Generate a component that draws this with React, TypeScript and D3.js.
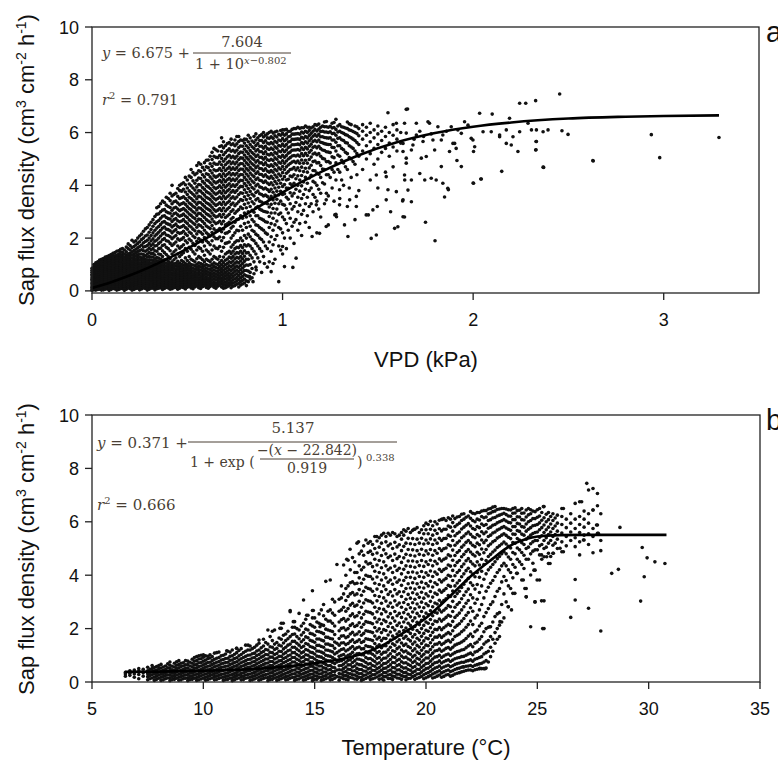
import React from "react";
import * as d3 from "d3";

// ---------- Panel a: sap flux density vs VPD (kPa) ----------
const vpdColumns: [number, number[]][] = [
  [0.0, [0.02, 0.07, 0.13, 0.19, 0.26, 0.31, 0.38, 0.44, 0.5, 0.57, 0.63, 0.71, 0.78, 0.86]],
  [0.01, [0.04, 0.1, 0.16, 0.23, 0.29, 0.35, 0.42, 0.48, 0.55, 0.61, 0.68, 0.75, 0.83, 0.92, 1.0]],
  [0.02, [0.03, 0.09, 0.15, 0.21, 0.27, 0.34, 0.4, 0.46, 0.53, 0.6, 0.67, 0.73, 0.8, 0.88, 0.97, 1.06]],
  [0.03, [0.05, 0.12, 0.18, 0.25, 0.31, 0.38, 0.45, 0.51, 0.58, 0.64, 0.71, 0.79, 0.86, 0.94, 1.02, 1.1]],
  [0.04, [0.06, 0.14, 0.2, 0.29, 0.35, 0.43, 0.5, 0.56, 0.63, 0.7, 0.77, 0.85, 0.93, 1.0, 1.08, 1.17]],
  [0.06, [0.04, 0.11, 0.19, 0.26, 0.34, 0.41, 0.47, 0.55, 0.62, 0.69, 0.76, 0.84, 0.91, 0.99, 1.07, 1.15, 1.23]],
  [0.08, [0.08, 0.15, 0.23, 0.3, 0.38, 0.45, 0.52, 0.6, 0.67, 0.74, 0.82, 0.9, 0.97, 1.05, 1.12, 1.2, 1.3]],
  [0.1, [0.05, 0.13, 0.21, 0.28, 0.36, 0.43, 0.51, 0.58, 0.66, 0.73, 0.81, 0.88, 0.96, 1.04, 1.11, 1.19, 1.27, 1.38]],
  [0.12, [0.07, 0.16, 0.24, 0.32, 0.39, 0.47, 0.55, 0.62, 0.7, 0.78, 0.86, 0.93, 1.01, 1.09, 1.17, 1.25, 1.33, 1.45]],
  [0.14, [0.05, 0.12, 0.2, 0.29, 0.37, 0.44, 0.52, 0.6, 0.68, 0.75, 0.83, 0.91, 0.99, 1.06, 1.14, 1.22, 1.3, 1.4, 1.52]],
  [0.16, [0.09, 0.17, 0.25, 0.33, 0.41, 0.49, 0.57, 0.64, 0.72, 0.8, 0.88, 0.96, 1.04, 1.12, 1.2, 1.28, 1.37, 1.46, 1.6]],
  [0.18, [0.06, 0.14, 0.22, 0.3, 0.38, 0.46, 0.54, 0.62, 0.7, 0.78, 0.86, 0.94, 1.02, 1.1, 1.18, 1.27, 1.36, 1.48, 1.66]],
  [0.2, [0.08, 0.16, 0.24, 0.33, 0.41, 0.49, 0.57, 0.65, 0.73, 0.81, 0.89, 0.97, 1.05, 1.14, 1.23, 1.32, 1.42, 1.55, 1.72]],
  [0.22, [0.05, 0.13, 0.21, 0.29, 0.37, 0.45, 0.53, 0.61, 0.69, 0.77, 0.85, 0.94, 1.02, 1.11, 1.2, 1.3, 1.41, 1.53, 1.68, 1.85]],
  [0.24, [0.1, 0.18, 0.26, 0.34, 0.42, 0.5, 0.58, 0.66, 0.74, 0.82, 0.9, 0.98, 1.07, 1.16, 1.26, 1.37, 1.49, 1.63, 1.8, 2.0]],
  [0.26, [0.07, 0.15, 0.23, 0.31, 0.39, 0.47, 0.55, 0.63, 0.71, 0.79, 0.87, 0.96, 1.05, 1.15, 1.25, 1.4, 1.56, 1.74, 1.95, 2.15]],
  [0.28, [0.09, 0.17, 0.25, 0.33, 0.41, 0.49, 0.57, 0.65, 0.73, 0.81, 0.9, 0.99, 1.09, 1.2, 1.33, 1.5, 1.68, 1.87, 2.08, 2.35]],
  [0.3, [0.06, 0.14, 0.22, 0.3, 0.38, 0.46, 0.54, 0.62, 0.7, 0.79, 0.88, 0.97, 1.07, 1.18, 1.3, 1.45, 1.62, 1.8, 2.0, 2.22, 2.5]],
  [0.32, [0.1, 0.18, 0.26, 0.34, 0.42, 0.5, 0.58, 0.67, 0.76, 0.85, 0.94, 1.04, 1.15, 1.28, 1.42, 1.6, 1.78, 1.97, 2.2, 2.45, 2.7]],
  [0.34, [0.08, 0.16, 0.24, 0.32, 0.4, 0.48, 0.57, 0.66, 0.75, 0.84, 0.93, 1.03, 1.14, 1.26, 1.5, 1.72, 1.93, 2.15, 2.38, 2.62, 2.9, 3.15]],
  [0.36, [0.12, 0.2, 0.28, 0.36, 0.44, 0.52, 0.61, 0.7, 0.79, 0.88, 0.98, 1.09, 1.2, 1.38, 1.62, 1.85, 2.08, 2.3, 2.52, 2.75, 3.0, 3.3]],
  [0.38, [0.09, 0.17, 0.25, 0.33, 0.41, 0.5, 0.59, 0.68, 0.77, 0.86, 0.96, 1.07, 1.18, 1.45, 1.75, 1.98, 2.2, 2.42, 2.63, 2.85, 3.08, 3.35]],
  [0.4, [0.11, 0.19, 0.27, 0.35, 0.43, 0.52, 0.61, 0.7, 0.79, 0.89, 1.0, 1.12, 1.3, 1.6, 1.88, 2.1, 2.32, 2.53, 2.74, 2.96, 3.2, 3.5]],
  [0.42, [0.08, 0.16, 0.24, 0.32, 0.41, 0.5, 0.59, 0.68, 0.78, 0.88, 0.99, 1.1, 1.4, 1.72, 1.98, 2.2, 2.42, 2.63, 2.84, 3.06, 3.3, 3.6, 4.0]],
  [0.44, [0.13, 0.21, 0.29, 0.37, 0.46, 0.55, 0.64, 0.73, 0.83, 0.94, 1.05, 1.25, 1.55, 1.85, 2.1, 2.32, 2.53, 2.74, 2.95, 3.17, 3.4, 3.7]],
  [0.46, [0.1, 0.18, 0.26, 0.35, 0.44, 0.53, 0.62, 0.72, 0.82, 0.93, 1.05, 1.3, 1.62, 1.92, 2.18, 2.4, 2.62, 2.83, 3.04, 3.26, 3.5, 3.8, 4.0]],
  [0.48, [0.12, 0.2, 0.29, 0.38, 0.47, 0.56, 0.66, 0.76, 0.86, 0.97, 1.1, 1.45, 1.75, 2.02, 2.26, 2.48, 2.7, 2.91, 3.12, 3.34, 3.57, 3.85, 4.1]],
  [0.5, [0.14, 0.22, 0.31, 0.4, 0.49, 0.58, 0.68, 0.78, 0.88, 0.99, 1.15, 1.5, 1.82, 2.1, 2.34, 2.56, 2.78, 2.99, 3.2, 3.42, 3.65, 3.9, 4.2]],
  [0.52, [0.11, 0.2, 0.29, 0.38, 0.47, 0.57, 0.67, 0.77, 0.88, 1.0, 1.2, 1.58, 1.9, 2.18, 2.42, 2.64, 2.86, 3.07, 3.28, 3.5, 3.73, 3.98, 4.3, 4.6]],
  [0.54, [0.15, 0.24, 0.33, 0.42, 0.52, 0.62, 0.72, 0.83, 0.95, 1.1, 1.4, 1.72, 2.02, 2.28, 2.52, 2.74, 2.95, 3.16, 3.37, 3.59, 3.82, 4.08, 4.4]],
  [0.56, [0.12, 0.21, 0.3, 0.4, 0.5, 0.6, 0.7, 0.81, 0.93, 1.06, 1.3, 1.65, 1.98, 2.26, 2.5, 2.72, 2.94, 3.15, 3.36, 3.58, 3.8, 4.03, 4.28, 4.55, 4.85]],
  [0.58, [0.16, 0.25, 0.35, 0.45, 0.55, 0.65, 0.76, 0.88, 1.0, 1.18, 1.5, 1.85, 2.15, 2.4, 2.63, 2.85, 3.06, 3.27, 3.48, 3.7, 3.92, 4.15, 4.4, 4.68]],
  [0.6, [0.13, 0.23, 0.33, 0.43, 0.53, 0.64, 0.75, 0.87, 1.0, 1.2, 1.55, 1.9, 2.2, 2.46, 2.7, 2.92, 3.13, 3.34, 3.55, 3.76, 3.98, 4.2, 4.44, 4.7, 4.95]],
  [0.62, [0.17, 0.27, 0.37, 0.47, 0.58, 0.69, 0.81, 0.94, 1.1, 1.4, 1.75, 2.08, 2.36, 2.6, 2.83, 3.04, 3.25, 3.46, 3.67, 3.88, 4.1, 4.32, 4.56, 4.82, 5.1]],
  [0.64, [0.14, 0.24, 0.34, 0.45, 0.56, 0.67, 0.79, 0.92, 1.06, 1.3, 1.7, 2.05, 2.35, 2.62, 2.86, 3.08, 3.3, 3.51, 3.72, 3.93, 4.14, 4.36, 4.59, 4.84, 5.1, 5.4]],
  [0.66, [0.18, 0.28, 0.39, 0.5, 0.61, 0.73, 0.86, 1.0, 1.2, 1.6, 1.98, 2.3, 2.58, 2.83, 3.06, 3.28, 3.5, 3.71, 3.92, 4.13, 4.35, 4.57, 4.8, 5.05, 5.3]],
  [0.68, [0.15, 0.26, 0.37, 0.48, 0.6, 0.72, 0.85, 0.99, 1.15, 1.5, 1.9, 2.24, 2.54, 2.8, 3.04, 3.27, 3.49, 3.7, 3.91, 4.12, 4.33, 4.55, 4.78, 5.02, 5.28, 5.5, 5.8]],
  [0.7, [0.12, 0.22, 0.33, 0.45, 0.57, 0.7, 0.84, 0.99, 1.16, 1.4, 1.8, 2.18, 2.5, 2.78, 3.03, 3.27, 3.5, 3.72, 3.93, 4.14, 4.35, 4.56, 4.78, 5.0, 5.24, 5.5]],
  [0.72, [0.2, 0.31, 0.43, 0.55, 0.68, 0.81, 0.95, 1.1, 1.28, 1.5, 1.85, 2.25, 2.6, 2.9, 3.16, 3.4, 3.63, 3.85, 4.06, 4.27, 4.48, 4.69, 4.91, 5.14, 5.38, 5.62]],
  [0.74, [0.18, 0.3, 0.42, 0.55, 0.68, 0.82, 0.97, 1.13, 1.3, 1.5, 1.75, 2.1, 2.45, 2.78, 3.07, 3.33, 3.57, 3.8, 4.02, 4.24, 4.45, 4.66, 4.88, 5.1, 5.33, 5.57]],
  [0.76, [0.25, 0.38, 0.51, 0.65, 0.79, 0.94, 1.1, 1.27, 1.45, 1.65, 1.9, 2.3, 2.7, 3.02, 3.3, 3.56, 3.8, 4.03, 4.25, 4.46, 4.67, 4.88, 5.1, 5.33, 5.57, 5.85]],
  [0.78, [0.22, 0.36, 0.5, 0.65, 0.8, 0.96, 1.13, 1.3, 1.5, 1.72, 2.0, 2.45, 2.85, 3.18, 3.46, 3.72, 3.96, 4.19, 4.41, 4.62, 4.83, 5.04, 5.26, 5.49, 5.72]],
  [0.8, [0.3, 0.45, 0.61, 0.77, 0.94, 1.12, 1.31, 1.52, 1.75, 2.1, 2.55, 2.95, 3.28, 3.57, 3.83, 4.07, 4.3, 4.52, 4.73, 4.94, 5.15, 5.37, 5.6, 5.75]],
  [0.82, [0.35, 0.55, 0.75, 0.97, 1.2, 1.45, 1.75, 2.15, 2.6, 3.0, 3.33, 3.62, 3.88, 4.12, 4.35, 4.57, 4.78, 4.99, 5.2, 5.42, 5.65, 5.9]],
  [0.84, [0.5, 0.85, 1.25, 1.6, 1.95, 2.3, 2.7, 3.05, 3.38, 3.66, 3.92, 4.16, 4.39, 4.61, 4.82, 5.03, 5.24, 5.46, 5.68]],
  [0.86, [0.9, 1.4, 1.8, 2.15, 2.5, 2.85, 3.15, 3.45, 3.73, 3.98, 4.22, 4.45, 4.67, 4.88, 5.09, 5.3, 5.51, 5.72, 5.95]],
  [0.88, [1.1, 1.6, 2.0, 2.4, 2.75, 3.1, 3.4, 3.68, 3.94, 4.19, 4.42, 4.64, 4.85, 5.06, 5.27, 5.48, 5.7, 5.88]],
  [0.9, [1.3, 1.85, 2.3, 2.68, 3.02, 3.32, 3.6, 3.86, 4.11, 4.34, 4.56, 4.78, 4.99, 5.2, 5.41, 5.62, 5.83, 6.0]],
  [0.92, [0.9, 1.6, 2.15, 2.6, 2.98, 3.3, 3.58, 3.84, 4.09, 4.32, 4.54, 4.76, 4.97, 5.18, 5.39, 5.6, 5.8, 5.95]],
  [0.94, [1.5, 2.05, 2.55, 2.95, 3.28, 3.58, 3.85, 4.1, 4.34, 4.56, 4.78, 4.99, 5.2, 5.41, 5.62, 5.84, 6.05]],
  [0.96, [1.2, 1.95, 2.5, 2.95, 3.32, 3.63, 3.9, 4.15, 4.39, 4.61, 4.83, 5.04, 5.25, 5.46, 5.67, 5.88, 6.02]],
  [0.98, [0.35, 1.7, 2.4, 2.9, 3.3, 3.64, 3.93, 4.19, 4.43, 4.66, 4.88, 5.09, 5.3, 5.51, 5.72, 5.93]],
  [1.0, [1.4, 2.2, 2.8, 3.28, 3.65, 3.96, 4.23, 4.48, 4.71, 4.93, 5.14, 5.35, 5.56, 5.77, 5.97, 6.1]],
  [1.02, [1.6, 2.55, 3.1, 3.55, 3.9, 4.2, 4.46, 4.7, 4.92, 5.13, 5.34, 5.55, 5.75, 5.95, 6.12]],
  [1.04, [2.0, 2.75, 3.3, 3.72, 4.06, 4.35, 4.6, 4.83, 5.05, 5.26, 5.46, 5.66, 5.86, 6.05]],
  [1.06, [1.8, 2.6, 3.2, 3.7, 4.08, 4.4, 4.67, 4.91, 5.13, 5.34, 5.54, 5.74, 5.94, 6.15]],
  [1.08, [2.3, 3.0, 3.55, 4.0, 4.36, 4.66, 4.92, 5.15, 5.36, 5.56, 5.76, 5.96, 6.2]],
  [1.1, [2.1, 2.9, 3.5, 3.98, 4.37, 4.69, 4.96, 5.2, 5.42, 5.62, 5.82, 6.02, 6.18]],
  [1.12, [2.6, 3.3, 3.85, 4.3, 4.65, 4.95, 5.21, 5.44, 5.65, 5.85, 6.05, 6.25]],
  [1.14, [2.4, 3.2, 3.8, 4.28, 4.66, 4.98, 5.25, 5.48, 5.69, 5.89, 6.08, 6.2]],
  [1.16, [3.0, 3.65, 4.15, 4.56, 4.9, 5.19, 5.44, 5.66, 5.86, 6.05, 6.22]],
  [1.18, [2.2, 3.4, 4.0, 4.47, 4.85, 5.16, 5.42, 5.65, 5.86, 6.06, 6.28]],
  [1.2, [2.8, 3.7, 4.3, 4.75, 5.1, 5.39, 5.63, 5.84, 6.04, 6.2]],
  [1.22, [3.3, 4.05, 4.6, 5.0, 5.32, 5.58, 5.81, 6.02, 6.22, 6.4]],
  [1.24, [2.5, 3.6, 4.4, 4.9, 5.26, 5.55, 5.79, 6.0, 6.2]],
  [1.26, [3.9, 4.6, 5.08, 5.44, 5.72, 5.96, 6.17, 6.35]],
  [1.28, [2.9, 4.2, 4.85, 5.3, 5.63, 5.9, 6.12, 6.5]],
  [1.3, [3.5, 4.5, 5.1, 5.5, 5.8, 6.05, 6.3]],
  [1.32, [4.0, 4.85, 5.35, 5.7, 5.97, 6.2]],
  [1.34, [3.2, 4.6, 5.2, 5.6, 5.9, 6.15, 6.4]],
  [1.36, [4.3, 5.0, 5.45, 5.8, 6.08, 6.3]],
  [1.38, [2.7, 4.8, 5.3, 5.7, 6.0, 6.25]],
  [1.4, [3.8, 5.1, 5.55, 5.88, 6.15]],
  [1.42, [4.6, 5.3, 5.75, 6.05, 6.3]],
  [1.44, [5.0, 5.5, 5.9, 6.2]],
  [1.46, [4.2, 5.2, 5.65, 6.0, 6.35]],
  [1.48, [4.8, 5.4, 5.8, 6.1]],
  [1.5, [3.9, 5.0, 5.55, 5.95, 6.25]],
  [1.52, [5.25, 5.7, 6.05]],
  [1.54, [4.5, 5.4, 5.85, 6.2]],
  [1.56, [5.1, 5.6, 6.0]],
  [1.58, [4.7, 5.45, 5.9, 6.3]],
  [1.6, [5.3, 5.75, 6.1]],
  [1.62, [5.6, 6.0]],
];

// further observations lying between the columns above
const vpdColumnsMid: [number, number[]][] = [
  [0.05, [0.03, 0.1, 0.17, 0.24, 0.32, 0.39, 0.46, 0.54, 0.61, 0.69, 0.77, 0.85, 0.94, 1.03, 1.12, 1.2]],
  [0.07, [0.06, 0.14, 0.22, 0.29, 0.37, 0.44, 0.52, 0.59, 0.67, 0.75, 0.83, 0.92, 1.01, 1.1, 1.19, 1.28]],
  [0.09, [0.02, 0.1, 0.18, 0.26, 0.33, 0.41, 0.49, 0.56, 0.64, 0.72, 0.8, 0.88, 0.97, 1.06, 1.15, 1.24, 1.34]],
  [0.11, [0.09, 0.17, 0.25, 0.32, 0.4, 0.48, 0.56, 0.63, 0.71, 0.79, 0.87, 0.95, 1.04, 1.13, 1.22, 1.31, 1.42]],
  [0.13, [0.03, 0.11, 0.19, 0.27, 0.35, 0.43, 0.51, 0.58, 0.66, 0.74, 0.82, 0.9, 0.98, 1.07, 1.16, 1.26, 1.36, 1.5]],
  [0.15, [0.08, 0.16, 0.24, 0.32, 0.4, 0.48, 0.56, 0.64, 0.72, 0.8, 0.88, 0.96, 1.05, 1.14, 1.24, 1.34, 1.46, 1.58]],
  [0.17, [0.02, 0.1, 0.19, 0.27, 0.35, 0.43, 0.51, 0.59, 0.67, 0.76, 0.84, 0.92, 1.0, 1.09, 1.18, 1.28, 1.4, 1.55]],
  [0.19, [0.11, 0.19, 0.27, 0.36, 0.44, 0.52, 0.6, 0.69, 0.77, 0.85, 0.93, 1.02, 1.11, 1.2, 1.3, 1.41, 1.6, 1.78]],
  [0.21, [0.03, 0.12, 0.2, 0.28, 0.36, 0.45, 0.53, 0.61, 0.7, 0.78, 0.86, 0.95, 1.04, 1.13, 1.24, 1.36, 1.48, 1.64, 1.92]],
  [0.23, [0.09, 0.17, 0.26, 0.34, 0.42, 0.51, 0.59, 0.67, 0.76, 0.84, 0.93, 1.02, 1.12, 1.22, 1.33, 1.45, 1.58, 1.74, 1.9]],
  [0.25, [0.04, 0.13, 0.21, 0.3, 0.38, 0.46, 0.55, 0.63, 0.71, 0.8, 0.88, 0.97, 1.06, 1.17, 1.28, 1.4, 1.53, 1.68, 1.86, 2.08]],
  [0.27, [0.11, 0.2, 0.28, 0.36, 0.45, 0.53, 0.61, 0.7, 0.78, 0.87, 0.95, 1.05, 1.15, 1.26, 1.38, 1.52, 1.66, 1.82, 2.0, 2.26]],
  [0.29, [0.03, 0.12, 0.2, 0.29, 0.37, 0.45, 0.53, 0.62, 0.7, 0.78, 0.87, 0.96, 1.06, 1.16, 1.28, 1.4, 1.55, 1.72, 1.92, 2.12, 2.4]],
  [0.31, [0.1, 0.18, 0.27, 0.35, 0.43, 0.52, 0.6, 0.68, 0.77, 0.86, 0.95, 1.05, 1.16, 1.28, 1.42, 1.56, 1.72, 1.9, 2.1, 2.33, 2.6]],
  [0.33, [0.04, 0.13, 0.21, 0.3, 0.38, 0.46, 0.55, 0.63, 0.72, 0.81, 0.9, 1.0, 1.1, 1.22, 1.36, 1.52, 1.7, 1.88, 2.08, 2.3, 2.55, 2.82]],
  [0.35, [0.1, 0.19, 0.27, 0.36, 0.44, 0.53, 0.62, 0.71, 0.8, 0.9, 1.0, 1.11, 1.24, 1.4, 1.6, 1.8, 2.0, 2.22, 2.44, 2.67, 2.92, 3.2]],
  [0.37, [0.05, 0.14, 0.23, 0.31, 0.4, 0.49, 0.57, 0.66, 0.75, 0.84, 0.94, 1.04, 1.16, 1.3, 1.52, 1.72, 1.94, 2.16, 2.38, 2.6, 2.83, 3.06, 3.4]],
  [0.39, [0.13, 0.22, 0.3, 0.39, 0.47, 0.56, 0.65, 0.74, 0.84, 0.94, 1.05, 1.2, 1.38, 1.65, 1.9, 2.12, 2.34, 2.56, 2.78, 3.0, 3.25, 3.55]],
  [0.41, [0.06, 0.15, 0.23, 0.31, 0.39, 0.48, 0.57, 0.66, 0.75, 0.84, 0.94, 1.05, 1.22, 1.52, 1.8, 2.05, 2.28, 2.5, 2.72, 2.94, 3.16, 3.42, 3.7]],
  [0.43, [0.12, 0.2, 0.28, 0.36, 0.45, 0.54, 0.63, 0.72, 0.82, 0.92, 1.03, 1.18, 1.48, 1.78, 2.04, 2.27, 2.48, 2.7, 2.92, 3.14, 3.38, 3.65]],
  [0.45, [0.06, 0.14, 0.23, 0.32, 0.41, 0.5, 0.59, 0.68, 0.78, 0.88, 0.99, 1.12, 1.4, 1.7, 1.97, 2.21, 2.44, 2.66, 2.88, 3.1, 3.33, 3.58, 3.88]],
  [0.47, [0.15, 0.24, 0.33, 0.42, 0.51, 0.6, 0.7, 0.8, 0.9, 1.01, 1.15, 1.38, 1.68, 1.96, 2.2, 2.43, 2.65, 2.86, 3.08, 3.3, 3.53, 3.78, 4.05]],
  [0.49, [0.07, 0.16, 0.25, 0.34, 0.43, 0.52, 0.62, 0.72, 0.82, 0.93, 1.04, 1.25, 1.6, 1.9, 2.16, 2.4, 2.62, 2.84, 3.06, 3.28, 3.5, 3.75, 4.02, 4.3]],
  [0.51, [0.17, 0.26, 0.35, 0.44, 0.53, 0.63, 0.73, 0.83, 0.94, 1.06, 1.3, 1.65, 1.96, 2.23, 2.47, 2.69, 2.91, 3.12, 3.33, 3.55, 3.79, 4.05, 4.35]],
  [0.53, [0.08, 0.17, 0.26, 0.35, 0.45, 0.55, 0.65, 0.75, 0.86, 0.98, 1.15, 1.48, 1.8, 2.08, 2.34, 2.57, 2.79, 3.0, 3.21, 3.43, 3.66, 3.9, 4.17, 4.48]],
  [0.55, [0.19, 0.28, 0.37, 0.47, 0.57, 0.67, 0.78, 0.89, 1.01, 1.22, 1.55, 1.88, 2.16, 2.41, 2.64, 2.86, 3.07, 3.28, 3.49, 3.71, 3.94, 4.19, 4.46, 4.75]],
  [0.57, [0.09, 0.18, 0.27, 0.37, 0.47, 0.57, 0.68, 0.79, 0.91, 1.04, 1.25, 1.6, 1.93, 2.22, 2.47, 2.7, 2.92, 3.13, 3.34, 3.56, 3.78, 4.01, 4.26, 4.52, 4.8]],
  [0.59, [0.2, 0.3, 0.4, 0.5, 0.61, 0.72, 0.83, 0.95, 1.1, 1.35, 1.7, 2.02, 2.3, 2.55, 2.78, 3.0, 3.21, 3.42, 3.63, 3.85, 4.08, 4.32, 4.58, 4.86]],
  [0.61, [0.1, 0.19, 0.29, 0.39, 0.49, 0.6, 0.71, 0.83, 0.96, 1.15, 1.48, 1.83, 2.14, 2.41, 2.65, 2.88, 3.09, 3.3, 3.51, 3.72, 3.94, 4.17, 4.41, 4.67, 4.96]],
  [0.63, [0.21, 0.31, 0.42, 0.53, 0.64, 0.75, 0.87, 1.0, 1.2, 1.55, 1.9, 2.21, 2.48, 2.72, 2.95, 3.17, 3.38, 3.59, 3.8, 4.02, 4.24, 4.47, 4.72, 4.98, 5.25]],
  [0.65, [0.1, 0.2, 0.3, 0.41, 0.52, 0.63, 0.75, 0.88, 1.02, 1.25, 1.62, 1.98, 2.28, 2.55, 2.8, 3.02, 3.24, 3.45, 3.66, 3.87, 4.09, 4.31, 4.55, 4.8, 5.06, 5.35]],
  [0.67, [0.22, 0.33, 0.44, 0.55, 0.67, 0.79, 0.92, 1.07, 1.3, 1.68, 2.04, 2.36, 2.64, 2.89, 3.12, 3.34, 3.56, 3.77, 3.98, 4.19, 4.41, 4.64, 4.88, 5.13, 5.47]],
  [0.69, [0.1, 0.2, 0.31, 0.42, 0.53, 0.65, 0.78, 0.92, 1.07, 1.28, 1.65, 2.02, 2.35, 2.64, 2.9, 3.14, 3.37, 3.59, 3.8, 4.01, 4.22, 4.44, 4.67, 4.91, 5.16, 5.42, 5.65]],
  [0.71, [0.16, 0.27, 0.38, 0.5, 0.62, 0.75, 0.89, 1.04, 1.21, 1.45, 1.82, 2.2, 2.54, 2.84, 3.1, 3.34, 3.57, 3.79, 4.0, 4.21, 4.42, 4.63, 4.85, 5.08, 5.32, 5.58]],
  [0.73, [0.12, 0.24, 0.36, 0.49, 0.62, 0.76, 0.91, 1.07, 1.24, 1.42, 1.66, 2.0, 2.38, 2.72, 3.01, 3.27, 3.51, 3.74, 3.96, 4.18, 4.39, 4.6, 4.82, 5.05, 5.29, 5.54, 5.75]],
  [0.75, [0.2, 0.33, 0.46, 0.6, 0.74, 0.89, 1.05, 1.22, 1.4, 1.6, 1.84, 2.2, 2.6, 2.94, 3.23, 3.49, 3.73, 3.96, 4.18, 4.39, 4.6, 4.81, 5.03, 5.26, 5.5, 5.72]],
  [0.77, [0.15, 0.29, 0.43, 0.58, 0.73, 0.89, 1.06, 1.24, 1.43, 1.64, 1.9, 2.28, 2.72, 3.08, 3.38, 3.65, 3.9, 4.13, 4.35, 4.56, 4.77, 4.98, 5.2, 5.43, 5.66, 5.85]],
  [0.79, [0.26, 0.4, 0.55, 0.71, 0.87, 1.04, 1.22, 1.42, 1.64, 1.9, 2.3, 2.75, 3.12, 3.43, 3.7, 3.95, 4.18, 4.4, 4.61, 4.82, 5.03, 5.25, 5.48, 5.7]],
  [0.81, [0.2, 0.38, 0.57, 0.77, 0.98, 1.2, 1.44, 1.7, 2.0, 2.4, 2.8, 3.15, 3.46, 3.73, 3.98, 4.21, 4.43, 4.64, 4.85, 5.06, 5.28, 5.5, 5.74]],
  [0.83, [0.45, 0.7, 1.0, 1.35, 1.7, 2.05, 2.45, 2.85, 3.2, 3.5, 3.77, 4.02, 4.25, 4.47, 4.68, 4.89, 5.1, 5.32, 5.55, 5.8]],
  [0.85, [0.65, 1.1, 1.5, 1.9, 2.25, 2.62, 2.98, 3.3, 3.6, 3.86, 4.1, 4.33, 4.55, 4.76, 4.97, 5.18, 5.4, 5.62, 5.85]],
  [0.87, [1.25, 1.7, 2.1, 2.48, 2.85, 3.2, 3.5, 3.78, 4.04, 4.28, 4.51, 4.73, 4.94, 5.15, 5.36, 5.58, 5.8]],
  [0.89, [0.7, 1.5, 1.95, 2.35, 2.72, 3.06, 3.37, 3.65, 3.92, 4.17, 4.41, 4.63, 4.85, 5.06, 5.27, 5.48, 5.7, 5.92]],
  [0.91, [1.7, 2.2, 2.62, 3.0, 3.33, 3.63, 3.9, 4.16, 4.4, 4.63, 4.85, 5.06, 5.27, 5.48, 5.69, 5.9]],
  [0.93, [1.1, 1.85, 2.4, 2.82, 3.18, 3.49, 3.77, 4.03, 4.27, 4.5, 4.72, 4.94, 5.15, 5.36, 5.57, 5.78, 6.0]],
  [0.95, [1.75, 2.3, 2.75, 3.12, 3.45, 3.74, 4.01, 4.26, 4.5, 4.72, 4.94, 5.15, 5.36, 5.57, 5.78, 5.98]],
  [0.97, [2.1, 2.65, 3.1, 3.47, 3.78, 4.06, 4.31, 4.55, 4.77, 4.99, 5.2, 5.41, 5.62, 5.83, 6.05]],
  [0.99, [1.55, 2.35, 2.95, 3.4, 3.77, 4.08, 4.36, 4.61, 4.84, 5.06, 5.27, 5.48, 5.69, 5.9, 6.08]],
  [1.01, [2.0, 2.7, 3.25, 3.68, 4.03, 4.33, 4.6, 4.84, 5.06, 5.27, 5.48, 5.69, 5.9, 6.1]],
  [1.03, [2.3, 2.95, 3.47, 3.89, 4.23, 4.52, 4.77, 5.0, 5.22, 5.43, 5.64, 5.84, 6.04]],
  [1.05, [2.45, 3.1, 3.6, 4.0, 4.33, 4.62, 4.88, 5.11, 5.33, 5.54, 5.74, 5.94, 6.12]],
  [1.07, [2.7, 3.35, 3.85, 4.25, 4.58, 4.86, 5.11, 5.34, 5.55, 5.75, 5.95, 6.15]],
  [1.09, [2.55, 3.25, 3.78, 4.2, 4.55, 4.84, 5.1, 5.33, 5.54, 5.74, 5.94, 6.16]],
  [1.11, [3.05, 3.65, 4.13, 4.52, 4.84, 5.12, 5.36, 5.58, 5.78, 5.98, 6.18]],
  [1.13, [2.85, 3.55, 4.08, 4.5, 4.84, 5.13, 5.38, 5.6, 5.8, 6.0, 6.2]],
  [1.15, [3.3, 3.9, 4.38, 4.76, 5.07, 5.33, 5.56, 5.77, 5.97, 6.17]],
  [1.17, [3.55, 4.1, 4.55, 4.92, 5.22, 5.48, 5.71, 5.92, 6.12, 6.3]],
  [1.19, [3.1, 3.85, 4.42, 4.86, 5.2, 5.48, 5.72, 5.93, 6.13, 6.32]],
  [1.21, [4.1, 4.62, 5.02, 5.34, 5.61, 5.84, 6.05, 6.25]],
  [1.23, [3.7, 4.4, 4.9, 5.27, 5.56, 5.8, 6.02, 6.22, 6.42]],
  [1.25, [4.3, 4.85, 5.24, 5.55, 5.8, 6.03, 6.24]],
  [1.27, [3.4, 4.5, 5.05, 5.43, 5.72, 5.97, 6.19, 6.38]],
  [1.29, [4.6, 5.15, 5.5, 5.78, 6.02, 6.25]],
  [1.31, [4.2, 4.95, 5.4, 5.73, 6.0, 6.22]],
  [1.33, [4.7, 5.25, 5.62, 5.92, 6.17]],
  [1.35, [3.9, 5.05, 5.5, 5.84, 6.1, 6.33]],
  [1.37, [4.9, 5.4, 5.75, 6.04]],
  [1.39, [4.4, 5.2, 5.62, 5.96, 6.22]],
];

// scattered individual observations (VPD, flux)
const vpdScatter: [number, number][] = [
  [0.827, 0.54], [0.845, 0.35], [0.862, 0.79], [0.905, 1.04], [0.94, 0.73], [0.95, 1.04], [1.01, 0.92],
  [1.054, 0.89], [1.071, 1.24], [1.0, 1.68], [1.155, 2.06], [1.194, 2.18], [1.229, 2.44], [1.274, 2.88],
  [1.283, 2.81], [1.325, 2.5], [1.343, 2.06], [1.299, 3.83], [1.299, 3.26], [1.352, 3.45], [1.387, 3.2],
  [1.387, 3.58], [1.229, 3.45], [1.177, 3.26], [1.439, 2.88], [1.45, 2.88], [1.474, 3.07], [1.497, 3.2],
  [1.544, 3.45], [1.553, 3.83], [1.597, 3.76], [1.632, 2.81], [1.641, 4.2], [1.588, 2.37], [1.605, 2.43],
  [1.465, 1.99], [1.492, 2.12], [1.492, 4.39], [1.544, 4.33], [1.649, 4.84], [1.553, 6.75], [1.649, 6.88],
  [1.597, 6.35], [1.656, 6.89], [1.567, 3.0], [1.63, 3.41], [1.676, 3.38], [1.64, 2.8], [1.8, 1.9],
  [1.75, 2.6], [1.85, 3.56], [1.87, 3.83], [2.0, 4.09], [2.04, 4.24], [2.15, 4.53], [2.37, 4.68],
  [2.33, 5.35], [2.33, 5.66], [2.498, 5.93], [2.466, 6.07], [2.63, 4.92], [2.979, 5.05], [2.935, 5.92],
  [3.29, 5.81], [2.454, 7.46], [2.244, 7.11], [2.276, 7.11], [2.328, 7.21],
  [1.64, 6.35], [1.702, 6.35], [1.763, 6.41], [1.771, 6.35], [1.815, 6.22], [1.885, 6.22], [1.955, 6.41],
  [1.973, 6.28], [2.034, 6.73], [2.1, 6.7], [2.191, 6.54], [2.288, 6.35], [2.332, 6.1], [2.393, 6.1],
  [1.649, 5.98], [1.702, 5.91], [1.632, 5.59], [1.684, 5.53], [1.737, 5.66], [1.789, 5.72], [1.841, 5.91],
  [1.894, 5.59], [1.938, 5.97], [1.99, 5.78], [2.008, 5.46], [2.052, 6.03], [2.095, 6.03], [2.139, 5.91],
  [2.174, 6.1], [2.209, 5.84], [2.244, 6.03], [2.174, 5.59], [2.2, 5.53], [2.139, 5.84], [2.332, 5.66],
  [2.328, 5.34], [2.235, 5.28], [2.306, 6.1], [2.367, 6.03], [1.632, 5.28], [1.676, 5.34], [1.728, 5.03],
  [1.754, 5.09], [1.798, 5.34], [1.833, 5.72], [1.876, 5.28], [1.903, 5.59], [1.911, 5.4], [1.938, 4.71],
  [1.915, 4.94], [1.999, 5.72], [2.002, 5.28], [1.649, 5.03], [1.64, 4.39], [1.676, 4.2], [1.72, 4.45],
  [1.746, 4.2], [1.78, 4.27], [1.806, 4.2], [1.833, 4.71], [1.841, 4.08], [1.867, 3.89], [1.632, 3.45],
  [1.658, 3.82], [2.002, 4.08], [2.043, 4.24], [2.628, 4.94], [2.367, 4.69], [1.72, 6.05], [1.78, 5.95],
  [1.69, 5.75], [1.74, 5.85], [1.86, 6.05], [1.92, 6.1],
];

// fitted sigmoid
const vpdFit: [number, number][] = [
  [0.0, 0.11], [0.1, 0.33], [0.2, 0.59], [0.3, 0.89], [0.4, 1.23], [0.5, 1.6], [0.6, 2.0], [0.7, 2.43],
  [0.8, 2.86], [0.9, 3.3], [1.0, 3.73], [1.2, 4.5], [1.4, 5.14], [1.6, 5.63], [1.8, 5.98], [2.0, 6.22],
  [2.2, 6.38], [2.5, 6.53], [2.8, 6.6], [3.0, 6.63], [3.29, 6.65],
];

// ---------- Panel b: sap flux density vs air temperature (°C) ----------
const tempColumns: [number, number[]][] = [
  [6.5, [0.22, 0.3, 0.36]],
  [6.7, [0.25, 0.33, 0.42]],
  [6.9, [0.18, 0.3, 0.45]],
  [7.1, [0.12, 0.28, 0.4, 0.5]],
  [7.3, [0.22, 0.35, 0.48]],
  [7.5, [0.08, 0.2, 0.31, 0.42, 0.55]],
  [7.7, [0.15, 0.27, 0.38, 0.5, 0.62]],
  [7.9, [0.1, 0.22, 0.33, 0.45, 0.58]],
  [8.1, [0.06, 0.18, 0.29, 0.4, 0.52, 0.66]],
  [8.3, [0.12, 0.24, 0.35, 0.47, 0.6]],
  [8.5, [0.05, 0.16, 0.27, 0.38, 0.5, 0.63, 0.75]],
  [8.7, [0.1, 0.21, 0.32, 0.44, 0.56, 0.7]],
  [8.9, [0.07, 0.18, 0.29, 0.41, 0.53, 0.66, 0.8]],
  [9.1, [0.12, 0.23, 0.35, 0.47, 0.6, 0.72]],
  [9.3, [0.05, 0.16, 0.28, 0.4, 0.52, 0.65, 0.78]],
  [9.5, [0.1, 0.21, 0.33, 0.45, 0.57, 0.7, 0.85]],
  [9.7, [0.06, 0.17, 0.29, 0.41, 0.53, 0.66, 0.8, 0.95]],
  [9.9, [0.11, 0.23, 0.35, 0.47, 0.6, 0.73, 0.87, 1.0]],
  [10.1, [0.07, 0.18, 0.3, 0.42, 0.55, 0.68, 0.82, 0.98]],
  [10.3, [0.12, 0.24, 0.36, 0.48, 0.61, 0.74, 0.9, 1.02]],
  [10.5, [0.08, 0.2, 0.32, 0.44, 0.57, 0.7, 0.85, 1.08]],
  [10.7, [0.13, 0.25, 0.37, 0.5, 0.63, 0.77, 0.92, 1.12]],
  [10.9, [0.06, 0.18, 0.3, 0.43, 0.56, 0.7, 0.84, 1.0]],
  [11.1, [0.1, 0.22, 0.34, 0.47, 0.6, 0.74, 0.89, 1.15]],
  [11.3, [0.05, 0.16, 0.28, 0.41, 0.54, 0.68, 0.82, 0.98, 1.2]],
  [11.5, [0.12, 0.24, 0.36, 0.49, 0.62, 0.76, 0.91, 1.1, 1.26]],
  [11.7, [0.08, 0.2, 0.32, 0.45, 0.58, 0.72, 0.87, 1.03, 1.25]],
  [11.9, [0.14, 0.26, 0.39, 0.52, 0.66, 0.8, 0.96, 1.15, 1.38]],
  [12.1, [0.06, 0.18, 0.3, 0.43, 0.56, 0.7, 0.85, 1.01, 1.2, 1.35]],
  [12.3, [0.11, 0.23, 0.36, 0.49, 0.63, 0.77, 0.92, 1.08, 1.3]],
  [12.5, [0.07, 0.19, 0.31, 0.44, 0.58, 0.72, 0.87, 1.03, 1.2, 1.45, 1.57]],
  [12.7, [0.13, 0.25, 0.38, 0.52, 0.66, 0.81, 0.97, 1.14, 1.35, 1.6]],
  [12.9, [0.05, 0.17, 0.3, 0.43, 0.57, 0.71, 0.86, 1.02, 1.2, 1.42, 1.95]],
  [13.1, [0.1, 0.22, 0.35, 0.48, 0.62, 0.77, 0.93, 1.1, 1.3, 1.55, 1.9]],
  [13.3, [0.06, 0.18, 0.31, 0.45, 0.59, 0.74, 0.9, 1.07, 1.26, 1.48]],
  [13.5, [0.12, 0.24, 0.37, 0.51, 0.65, 0.8, 0.96, 1.14, 1.35, 1.6, 2.01, 2.2]],
  [13.7, [0.08, 0.2, 0.33, 0.47, 0.61, 0.76, 0.92, 1.1, 1.3, 1.55, 1.8]],
  [13.9, [0.14, 0.26, 0.39, 0.53, 0.68, 0.84, 1.01, 1.2, 1.42, 1.7, 2.63, 2.68]],
  [14.1, [0.06, 0.18, 0.31, 0.45, 0.6, 0.75, 0.92, 1.1, 1.3, 1.52, 1.8, 2.05, 2.26]],
  [14.3, [0.11, 0.23, 0.36, 0.5, 0.65, 0.81, 0.98, 1.17, 1.38, 1.62, 1.95, 2.57]],
  [14.5, [0.07, 0.19, 0.32, 0.46, 0.61, 0.77, 0.94, 1.13, 1.34, 1.58, 1.85, 2.2, 3.07]],
  [14.7, [0.13, 0.25, 0.38, 0.52, 0.67, 0.83, 1.0, 1.19, 1.41, 1.66, 1.95, 2.5]],
  [14.9, [0.05, 0.17, 0.3, 0.44, 0.59, 0.75, 0.92, 1.1, 1.3, 1.53, 1.8, 2.1, 2.4, 2.68, 3.42]],
  [15.1, [0.1, 0.22, 0.35, 0.49, 0.64, 0.8, 0.97, 1.16, 1.37, 1.61, 1.9, 2.25]],
  [15.3, [0.06, 0.18, 0.31, 0.45, 0.6, 0.76, 0.93, 1.12, 1.33, 1.57, 1.85, 2.15, 2.7]],
  [15.5, [0.12, 0.24, 0.37, 0.51, 0.66, 0.82, 1.0, 1.2, 1.42, 1.68, 1.98, 2.35, 3.77]],
  [15.7, [0.08, 0.2, 0.33, 0.47, 0.62, 0.78, 0.96, 1.16, 1.38, 1.63, 1.92, 2.28, 2.7, 3.82]],
  [15.9, [0.14, 0.26, 0.39, 0.53, 0.69, 0.86, 1.05, 1.26, 1.5, 1.78, 2.1, 2.5, 3.0]],
  [16.0, [0.2, 0.45, 0.75, 1.1, 1.45, 4.4]],
  [16.1, [0.07, 0.19, 0.32, 0.46, 0.61, 0.78, 0.96, 1.16, 1.38, 1.63, 1.92, 2.25, 2.65, 3.1]],
  [16.3, [0.12, 0.24, 0.37, 0.51, 0.67, 0.84, 1.03, 1.24, 1.47, 1.73, 2.03, 2.38, 2.8, 3.3, 4.38]],
  [16.5, [0.08, 0.2, 0.33, 0.48, 0.64, 0.81, 1.0, 1.21, 1.44, 1.7, 2.0, 2.35, 2.75, 3.2, 3.6, 4.56]],
  [16.7, [0.15, 0.27, 0.41, 0.56, 0.73, 0.91, 1.11, 1.33, 1.58, 1.86, 2.18, 2.55, 2.95, 3.35, 3.75, 4.66]],
  [16.9, [0.1, 0.22, 0.36, 0.51, 0.68, 0.86, 1.06, 1.28, 1.52, 1.8, 2.12, 2.48, 2.88, 3.3, 3.7, 4.1, 5.2]],
  [17.1, [0.06, 0.18, 0.32, 0.47, 0.64, 0.82, 1.02, 1.24, 1.48, 1.75, 2.05, 2.4, 2.8, 3.25, 3.7, 4.2, 4.9]],
  [17.3, [0.13, 0.26, 0.4, 0.56, 0.73, 0.92, 1.13, 1.36, 1.62, 1.92, 2.26, 2.65, 3.08, 3.55, 4.0, 4.5, 5.32]],
  [17.5, [0.09, 0.22, 0.36, 0.52, 0.69, 0.88, 1.09, 1.32, 1.58, 1.88, 2.22, 2.6, 3.02, 3.48, 3.95, 4.45, 4.9, 5.26]],
  [17.7, [0.15, 0.28, 0.43, 0.59, 0.77, 0.97, 1.19, 1.44, 1.72, 2.04, 2.4, 2.8, 3.24, 3.7, 4.15, 4.6, 5.0, 5.45]],
  [17.9, [0.1, 0.23, 0.38, 0.54, 0.72, 0.92, 1.14, 1.39, 1.67, 1.99, 2.35, 2.75, 3.2, 3.65, 4.1, 4.55, 5.05, 5.4]],
  [18.1, [0.07, 0.2, 0.35, 0.51, 0.69, 0.89, 1.11, 1.36, 1.64, 1.96, 2.32, 2.72, 3.15, 3.6, 4.05, 4.5, 4.95, 5.57]],
  [18.3, [0.13, 0.26, 0.41, 0.58, 0.77, 0.98, 1.21, 1.47, 1.76, 2.08, 2.44, 2.84, 3.28, 3.74, 4.2, 4.66, 5.1, 5.57]],
  [18.5, [0.09, 0.22, 0.37, 0.54, 0.73, 0.94, 1.17, 1.43, 1.72, 2.04, 2.4, 2.8, 3.22, 3.66, 4.1, 4.55, 5.0, 5.6]],
  [18.7, [0.15, 0.29, 0.45, 0.62, 0.81, 1.02, 1.25, 1.51, 1.8, 2.12, 2.48, 2.88, 3.3, 3.74, 4.18, 4.62, 5.06, 5.45]],
  [18.9, [0.1, 0.24, 0.4, 0.57, 0.76, 0.97, 1.2, 1.46, 1.75, 2.07, 2.42, 2.8, 3.2, 3.62, 4.05, 4.48, 4.92, 5.35, 5.6]],
  [19.1, [0.08, 0.21, 0.36, 0.53, 0.72, 0.93, 1.16, 1.42, 1.71, 2.02, 2.36, 2.72, 3.1, 3.5, 3.92, 4.35, 4.78, 5.2, 5.65]],
  [19.3, [0.14, 0.28, 0.44, 0.62, 0.82, 1.04, 1.28, 1.54, 1.82, 2.12, 2.44, 2.78, 3.14, 3.52, 3.92, 4.33, 4.75, 5.18, 5.6]],
  [19.5, [0.1, 0.24, 0.4, 0.58, 0.78, 1.0, 1.24, 1.5, 1.78, 2.08, 2.4, 2.74, 3.1, 3.48, 3.88, 4.3, 4.72, 5.15, 5.72]],
  [19.7, [0.17, 0.31, 0.47, 0.65, 0.85, 1.07, 1.31, 1.57, 1.85, 2.15, 2.47, 2.81, 3.17, 3.55, 3.95, 4.36, 4.78, 5.2, 5.6]],
  [19.9, [0.12, 0.27, 0.44, 0.62, 0.82, 1.04, 1.28, 1.54, 1.82, 2.12, 2.44, 2.78, 3.14, 3.52, 3.92, 4.33, 4.75, 5.17, 5.55, 5.85]],
  [20.1, [0.2, 0.35, 0.52, 0.7, 0.9, 1.12, 1.36, 1.62, 1.9, 2.2, 2.52, 2.86, 3.22, 3.6, 4.0, 4.4, 4.8, 5.2, 5.55, 5.9]],
  [20.3, [0.15, 0.3, 0.47, 0.66, 0.86, 1.08, 1.32, 1.58, 1.86, 2.16, 2.48, 2.82, 3.18, 3.56, 3.95, 4.35, 4.75, 5.15, 5.5, 5.85]],
  [20.5, [0.22, 0.38, 0.55, 0.74, 0.95, 1.18, 1.42, 1.68, 1.96, 2.26, 2.58, 2.92, 3.28, 3.65, 4.04, 4.43, 4.82, 5.2, 5.56, 5.92]],
  [20.7, [0.18, 0.34, 0.52, 0.71, 0.92, 1.15, 1.4, 1.67, 1.96, 2.28, 2.62, 2.98, 3.36, 3.75, 4.14, 4.53, 4.92, 5.3, 5.66, 6.09]],
  [20.9, [0.26, 0.42, 0.6, 0.8, 1.02, 1.26, 1.52, 1.8, 2.1, 2.42, 2.76, 3.12, 3.5, 3.88, 4.26, 4.64, 5.02, 5.38, 5.72, 6.05]],
  [21.1, [0.22, 0.39, 0.57, 0.77, 0.99, 1.23, 1.5, 1.8, 2.12, 2.46, 2.82, 3.2, 3.58, 3.96, 4.34, 4.72, 5.1, 5.46, 5.8, 6.1]],
  [21.3, [0.3, 0.47, 0.66, 0.87, 1.1, 1.38, 1.7, 2.05, 2.42, 2.8, 3.2, 3.6, 3.98, 4.36, 4.74, 5.12, 5.48, 5.82, 6.12]],
  [21.5, [0.35, 0.52, 0.71, 0.92, 1.16, 1.45, 1.8, 2.18, 2.58, 2.98, 3.4, 3.8, 4.18, 4.55, 4.92, 5.28, 5.62, 5.95, 6.2]],
  [21.7, [0.4, 0.56, 0.74, 0.96, 1.22, 1.55, 1.95, 2.38, 2.82, 3.25, 3.66, 4.05, 4.42, 4.78, 5.13, 5.47, 5.8, 6.1, 6.3]],
  [21.9, [0.45, 0.6, 0.8, 1.05, 1.35, 1.72, 2.15, 2.6, 3.05, 3.48, 3.88, 4.26, 4.62, 4.96, 5.3, 5.62, 5.93, 6.22]],
  [22.1, [0.42, 0.58, 0.78, 1.02, 1.32, 1.7, 2.15, 2.65, 3.15, 3.62, 4.04, 4.42, 4.78, 5.12, 5.44, 5.75, 6.05, 6.32]],
  [22.3, [0.48, 0.65, 0.88, 1.15, 1.5, 1.95, 2.5, 3.1, 3.65, 4.1, 4.5, 4.86, 5.2, 5.52, 5.82, 6.1, 6.35]],
  [22.5, [0.5, 0.7, 0.95, 1.28, 1.7, 2.2, 2.9, 3.6, 4.15, 4.6, 4.98, 5.32, 5.63, 5.92, 6.2, 6.4]],
  [22.7, [0.52, 0.8, 1.1, 1.5, 2.0, 2.6, 3.4, 4.05, 4.55, 4.96, 5.31, 5.62, 5.9, 6.18, 6.42]],
  [22.9, [0.95, 1.3, 1.7, 2.07, 2.9, 3.7, 4.3, 4.78, 5.17, 5.5, 5.8, 6.08, 6.33, 6.5]],
  [23.1, [1.45, 1.85, 2.45, 3.2, 3.95, 4.5, 4.94, 5.3, 5.62, 5.9, 6.16, 6.4, 6.57]],
  [23.3, [1.7, 2.13, 2.6, 3.5, 4.2, 4.7, 5.1, 5.44, 5.73, 6.0, 6.25, 6.48]],
  [23.5, [2.4, 3.3, 3.95, 4.45, 4.88, 5.24, 5.55, 5.82, 6.08, 6.32, 6.5]],
  [23.7, [2.82, 3.6, 4.2, 4.68, 5.08, 5.42, 5.72, 5.98, 6.22, 6.45]],
  [23.9, [3.32, 3.9, 4.4, 4.85, 5.22, 5.54, 5.82, 6.08, 6.32, 6.5]],
  [24.1, [4.07, 4.6, 5.02, 5.37, 5.67, 5.94, 6.19, 6.42]],
  [24.3, [3.82, 4.4, 4.85, 5.22, 5.54, 5.82, 6.08, 6.32, 6.5]],
  [24.5, [3.19, 3.5, 4.6, 5.0, 5.35, 5.65, 5.92, 6.18, 6.44]],
  [24.7, [2.07, 4.01, 4.8, 5.18, 5.5, 5.78, 6.05, 6.3, 6.45]],
  [24.9, [3.0, 4.19, 4.95, 5.3, 5.6, 5.87, 6.12, 6.38]],
  [25.1, [3.82, 4.76, 5.1, 5.42, 5.7, 5.96, 6.22, 6.5]],
  [25.3, [2.0, 3.04, 4.69, 5.0, 5.3, 5.6, 5.88, 6.15, 6.57]],
  [25.5, [4.44, 4.82, 5.2, 5.52, 5.8, 6.08, 6.35]],
  [25.7, [4.82, 5.12, 5.45, 5.75, 6.05, 6.3]],
  [25.9, [5.0, 5.35, 5.65, 5.95, 6.25]],
  [26.1, [4.88, 5.25, 5.58, 5.9, 6.2, 6.5]],
  [26.3, [5.1, 5.45, 5.78, 6.1]],
  [26.5, [2.42, 5.3, 5.62, 5.95, 6.3]],
  [26.7, [3.07, 3.84, 5.07, 5.4, 5.75, 6.1, 6.69]],
  [26.9, [4.76, 5.25, 5.6, 5.9, 6.2, 6.75]],
  [27.1, [5.32, 5.5, 5.8, 6.1, 6.4]],
  [27.3, [2.76, 5.15, 5.55, 5.95, 6.3, 7.19]],
  [27.5, [4.84, 5.45, 5.75, 6.44, 7.25]],
  [27.7, [5.57, 5.88, 6.6, 7.06]],
  [27.85, [1.91, 4.92, 5.3, 6.3]],
];

// further observations lying between the columns above
const tempColumnsMid: [number, number[]][] = [
  [7.6, [0.12, 0.24, 0.36, 0.48]],
  [7.8, [0.06, 0.18, 0.3, 0.42, 0.54]],
  [8.0, [0.14, 0.26, 0.37, 0.5, 0.62]],
  [8.2, [0.08, 0.2, 0.32, 0.44, 0.56]],
  [8.4, [0.15, 0.27, 0.4, 0.53, 0.68]],
  [8.6, [0.09, 0.21, 0.33, 0.46, 0.59]],
  [8.8, [0.14, 0.26, 0.38, 0.5, 0.63, 0.76]],
  [9.0, [0.08, 0.2, 0.32, 0.45, 0.58, 0.7]],
  [9.2, [0.14, 0.26, 0.38, 0.51, 0.64, 0.8]],
  [9.4, [0.09, 0.21, 0.33, 0.46, 0.6, 0.74]],
  [9.6, [0.14, 0.26, 0.38, 0.51, 0.64, 0.78, 0.92]],
  [9.8, [0.08, 0.2, 0.32, 0.45, 0.58, 0.72, 0.86, 0.98]],
  [10.0, [0.14, 0.26, 0.38, 0.51, 0.64, 0.78, 0.93, 1.02]],
  [10.2, [0.09, 0.21, 0.33, 0.46, 0.59, 0.73, 0.87, 0.96]],
  [10.4, [0.15, 0.27, 0.39, 0.52, 0.66, 0.8, 0.95]],
  [10.6, [0.1, 0.22, 0.34, 0.47, 0.6, 0.74, 0.89, 1.1]],
  [10.8, [0.16, 0.28, 0.41, 0.54, 0.68, 0.82, 0.98]],
  [11.0, [0.09, 0.21, 0.33, 0.46, 0.59, 0.73, 0.88, 1.05]],
  [11.2, [0.14, 0.26, 0.39, 0.52, 0.66, 0.81, 0.96, 1.12]],
  [11.4, [0.08, 0.2, 0.32, 0.45, 0.59, 0.73, 0.88, 1.04]],
  [11.6, [0.15, 0.27, 0.4, 0.53, 0.67, 0.82, 0.98, 1.18]],
  [11.8, [0.09, 0.21, 0.34, 0.47, 0.61, 0.76, 0.92, 1.1]],
  [12.0, [0.16, 0.28, 0.41, 0.55, 0.69, 0.84, 1.0, 1.2]],
  [12.2, [0.08, 0.2, 0.33, 0.46, 0.6, 0.75, 0.9, 1.06, 1.25]],
  [12.4, [0.15, 0.27, 0.4, 0.54, 0.68, 0.83, 0.99, 1.16, 1.38]],
  [12.6, [0.1, 0.22, 0.35, 0.48, 0.62, 0.77, 0.93, 1.1, 1.28]],
  [12.8, [0.16, 0.28, 0.42, 0.56, 0.7, 0.86, 1.03, 1.22, 1.48]],
  [13.0, [0.09, 0.21, 0.34, 0.48, 0.62, 0.77, 0.93, 1.11, 1.32, 1.7]],
  [13.2, [0.15, 0.27, 0.41, 0.55, 0.7, 0.86, 1.03, 1.22, 1.42, 1.95]],
  [13.4, [0.09, 0.21, 0.34, 0.48, 0.63, 0.79, 0.96, 1.15, 1.38, 1.65]],
  [13.6, [0.16, 0.29, 0.43, 0.57, 0.72, 0.88, 1.05, 1.24, 1.46, 1.75]],
  [13.8, [0.1, 0.22, 0.36, 0.5, 0.65, 0.81, 0.98, 1.17, 1.38, 1.62, 1.9]],
  [14.0, [0.17, 0.3, 0.44, 0.59, 0.75, 0.92, 1.1, 1.3, 1.52, 1.78, 2.05]],
  [14.2, [0.1, 0.23, 0.37, 0.52, 0.68, 0.85, 1.03, 1.23, 1.45, 1.7, 2.0]],
  [14.4, [0.16, 0.29, 0.43, 0.58, 0.74, 0.91, 1.09, 1.29, 1.51, 1.76, 2.1]],
  [14.6, [0.09, 0.22, 0.36, 0.51, 0.67, 0.84, 1.02, 1.22, 1.44, 1.69, 1.98, 2.35]],
  [14.8, [0.16, 0.29, 0.43, 0.59, 0.75, 0.93, 1.12, 1.33, 1.56, 1.82, 2.15]],
  [15.0, [0.1, 0.23, 0.37, 0.52, 0.68, 0.86, 1.05, 1.26, 1.49, 1.75, 2.05, 2.4]],
  [15.2, [0.17, 0.3, 0.44, 0.6, 0.77, 0.95, 1.15, 1.37, 1.61, 1.88, 2.2, 2.55]],
  [15.4, [0.09, 0.22, 0.37, 0.53, 0.7, 0.88, 1.08, 1.3, 1.54, 1.81, 2.12, 2.48, 2.9]],
  [15.6, [0.16, 0.3, 0.45, 0.61, 0.79, 0.98, 1.19, 1.42, 1.67, 1.95, 2.28, 2.65]],
  [15.8, [0.1, 0.24, 0.39, 0.55, 0.73, 0.92, 1.13, 1.36, 1.61, 1.89, 2.2, 2.58, 3.1]],
  [16.2, [0.16, 0.3, 0.45, 0.62, 0.8, 1.0, 1.22, 1.46, 1.72, 2.01, 2.33, 2.7, 3.15, 3.6]],
  [16.4, [0.1, 0.24, 0.39, 0.56, 0.74, 0.94, 1.16, 1.4, 1.66, 1.95, 2.28, 2.65, 3.05, 3.5, 4.0]],
  [16.6, [0.17, 0.31, 0.47, 0.64, 0.83, 1.04, 1.27, 1.52, 1.8, 2.12, 2.48, 2.88, 3.3, 3.72, 4.2]],
  [16.8, [0.11, 0.26, 0.42, 0.6, 0.79, 1.0, 1.23, 1.48, 1.76, 2.08, 2.44, 2.84, 3.26, 3.68, 4.1, 4.5]],
  [17.0, [0.17, 0.31, 0.47, 0.65, 0.85, 1.07, 1.31, 1.58, 1.88, 2.22, 2.6, 3.02, 3.46, 3.9, 4.35, 4.8]],
  [17.2, [0.1, 0.25, 0.41, 0.59, 0.79, 1.01, 1.25, 1.52, 1.82, 2.16, 2.54, 2.96, 3.4, 3.85, 4.3, 4.75, 5.1]],
  [17.4, [0.18, 0.33, 0.49, 0.67, 0.87, 1.09, 1.33, 1.6, 1.9, 2.24, 2.62, 3.04, 3.5, 3.96, 4.42, 4.85, 5.2]],
  [17.6, [0.12, 0.27, 0.44, 0.62, 0.82, 1.04, 1.28, 1.55, 1.85, 2.18, 2.55, 2.96, 3.4, 3.86, 4.32, 4.78, 5.15]],
  [17.8, [0.19, 0.34, 0.5, 0.68, 0.88, 1.1, 1.34, 1.61, 1.91, 2.25, 2.63, 3.04, 3.48, 3.93, 4.38, 4.83, 5.28]],
  [18.0, [0.12, 0.27, 0.44, 0.62, 0.82, 1.04, 1.28, 1.55, 1.85, 2.18, 2.55, 2.95, 3.38, 3.82, 4.28, 4.74, 5.2, 5.5]],
  [18.2, [0.2, 0.35, 0.52, 0.7, 0.9, 1.12, 1.36, 1.63, 1.93, 2.26, 2.63, 3.03, 3.46, 3.9, 4.35, 4.8, 5.25, 5.45]],
  [18.4, [0.13, 0.28, 0.45, 0.64, 0.84, 1.06, 1.3, 1.57, 1.87, 2.2, 2.56, 2.96, 3.38, 3.82, 4.27, 4.72, 5.17, 5.5]],
  [18.6, [0.2, 0.36, 0.53, 0.72, 0.92, 1.14, 1.38, 1.65, 1.95, 2.28, 2.64, 3.04, 3.46, 3.9, 4.34, 4.79, 5.23, 5.55]],
  [18.8, [0.14, 0.29, 0.46, 0.65, 0.85, 1.07, 1.31, 1.58, 1.88, 2.21, 2.57, 2.96, 3.38, 3.82, 4.26, 4.7, 5.14, 5.5]],
  [19.0, [0.2, 0.35, 0.52, 0.71, 0.91, 1.13, 1.37, 1.64, 1.93, 2.25, 2.6, 2.98, 3.38, 3.8, 4.22, 4.65, 5.08, 5.5, 5.7]],
  [19.2, [0.13, 0.29, 0.47, 0.66, 0.86, 1.08, 1.33, 1.6, 1.89, 2.2, 2.54, 2.9, 3.28, 3.68, 4.1, 4.53, 4.96, 5.38, 5.75]],
  [19.4, [0.2, 0.36, 0.54, 0.73, 0.94, 1.17, 1.42, 1.69, 1.98, 2.29, 2.62, 2.97, 3.34, 3.72, 4.12, 4.53, 4.95, 5.37, 5.68]],
  [19.6, [0.14, 0.3, 0.48, 0.68, 0.89, 1.12, 1.37, 1.64, 1.93, 2.24, 2.57, 2.92, 3.29, 3.68, 4.08, 4.5, 4.92, 5.35, 5.78]],
  [19.8, [0.21, 0.37, 0.55, 0.75, 0.96, 1.19, 1.44, 1.71, 2.0, 2.31, 2.64, 2.99, 3.36, 3.74, 4.14, 4.55, 4.97, 5.38, 5.7]],
  [20.0, [0.16, 0.32, 0.5, 0.69, 0.9, 1.13, 1.38, 1.65, 1.94, 2.25, 2.58, 2.93, 3.3, 3.69, 4.09, 4.5, 4.91, 5.32, 5.7, 5.95]],
  [20.2, [0.24, 0.4, 0.58, 0.78, 0.99, 1.22, 1.47, 1.74, 2.03, 2.34, 2.67, 3.02, 3.39, 3.77, 4.16, 4.56, 4.96, 5.36, 5.72, 6.02]],
  [20.4, [0.18, 0.34, 0.52, 0.72, 0.93, 1.16, 1.41, 1.68, 1.97, 2.28, 2.61, 2.96, 3.33, 3.72, 4.12, 4.52, 4.92, 5.32, 5.68, 6.0]],
  [20.6, [0.26, 0.42, 0.6, 0.79, 1.0, 1.23, 1.48, 1.75, 2.04, 2.36, 2.7, 3.06, 3.44, 3.83, 4.22, 4.61, 5.0, 5.38, 5.74, 6.06]],
  [20.8, [0.21, 0.38, 0.56, 0.76, 0.97, 1.2, 1.45, 1.73, 2.03, 2.35, 2.69, 3.05, 3.43, 3.82, 4.21, 4.6, 4.99, 5.37, 5.72, 6.12]],
  [21.0, [0.28, 0.45, 0.63, 0.83, 1.05, 1.29, 1.56, 1.85, 2.16, 2.5, 2.86, 3.24, 3.62, 4.0, 4.38, 4.76, 5.14, 5.5, 5.84, 6.15]],
  [21.2, [0.25, 0.42, 0.61, 0.82, 1.05, 1.3, 1.59, 1.92, 2.27, 2.64, 3.02, 3.41, 3.8, 4.18, 4.56, 4.94, 5.3, 5.65, 5.97, 6.22]],
  [21.4, [0.33, 0.5, 0.69, 0.9, 1.14, 1.42, 1.75, 2.12, 2.5, 2.9, 3.31, 3.71, 4.1, 4.48, 4.85, 5.21, 5.56, 5.89, 6.18]],
  [21.6, [0.38, 0.55, 0.74, 0.95, 1.2, 1.5, 1.88, 2.28, 2.7, 3.12, 3.54, 3.94, 4.32, 4.69, 5.05, 5.4, 5.73, 6.05, 6.28]],
  [21.8, [0.43, 0.59, 0.78, 1.0, 1.28, 1.63, 2.05, 2.5, 2.95, 3.38, 3.78, 4.17, 4.54, 4.89, 5.23, 5.55, 5.87, 6.17]],
  [22.0, [0.45, 0.62, 0.83, 1.08, 1.4, 1.8, 2.28, 2.78, 3.27, 3.72, 4.13, 4.51, 4.87, 5.21, 5.53, 5.84, 6.13, 6.38]],
  [22.2, [0.46, 0.63, 0.85, 1.12, 1.45, 1.88, 2.4, 2.95, 3.48, 3.94, 4.35, 4.72, 5.07, 5.4, 5.71, 6.0, 6.3]],
  [22.4, [0.5, 0.68, 0.92, 1.22, 1.6, 2.1, 2.7, 3.35, 3.92, 4.38, 4.78, 5.14, 5.47, 5.78, 6.07, 6.35]],
  [22.6, [0.5, 0.75, 1.05, 1.42, 1.88, 2.45, 3.15, 3.85, 4.4, 4.84, 5.22, 5.55, 5.86, 6.15, 6.42]],
  [22.8, [0.75, 1.15, 1.55, 2.05, 2.75, 3.55, 4.2, 4.7, 5.1, 5.45, 5.76, 6.05, 6.3, 6.48]],
  [23.0, [1.15, 1.6, 2.25, 3.0, 3.8, 4.4, 4.87, 5.25, 5.58, 5.87, 6.14, 6.38, 6.55]],
  [23.2, [1.6, 2.0, 2.55, 3.4, 4.1, 4.62, 5.04, 5.39, 5.69, 5.96, 6.22, 6.46]],
  [23.4, [2.25, 2.9, 3.75, 4.35, 4.8, 5.17, 5.5, 5.78, 6.04, 6.28, 6.5]],
  [23.6, [3.0, 3.8, 4.35, 4.8, 5.17, 5.49, 5.77, 6.03, 6.27, 6.48]],
  [23.8, [3.5, 4.1, 4.6, 5.02, 5.37, 5.68, 5.96, 6.21, 6.44]],
  [24.0, [4.3, 4.8, 5.2, 5.53, 5.82, 6.08, 6.33, 6.52]],
  [24.2, [4.5, 4.95, 5.32, 5.64, 5.92, 6.18, 6.43]],
  [24.4, [4.25, 4.75, 5.15, 5.5, 5.8, 6.07, 6.33]],
  [24.6, [4.6, 5.05, 5.42, 5.72, 6.0, 6.26, 6.5]],
  [24.8, [4.45, 4.9, 5.25, 5.56, 5.85, 6.12, 6.4]],
  [25.0, [4.95, 5.3, 5.62, 5.9, 6.17, 6.45]],
  [25.2, [4.6, 5.15, 5.48, 5.78, 6.06, 6.35]],
  [25.4, [5.05, 5.4, 5.7, 6.0, 6.28]],
  [25.6, [4.7, 5.3, 5.62, 5.92, 6.2]],
  [25.8, [5.2, 5.52, 5.84, 6.14]],
];

const tempScatter: [number, number][] = [
  [27.22, 7.44], [28.34, 4.07], [28.64, 4.22], [28.71, 5.79], [29.71, 5.04], [29.93, 4.65],
  [30.28, 4.5], [30.73, 4.44], [29.8, 3.94], [29.64, 3.03], [11.05, 1.17], [11.49, 1.26], [12.01, 1.38],
  [13.44, 2.01], [13.59, 2.2], [14.04, 2.26], [14.64, 2.5], [14.94, 2.68], [15.24, 2.07], [16.44, 4.6],
  [16.59, 4.97], [16.97, 5.25], [17.79, 5.45], [19.46, 5.72], [20.73, 6.09], [25.27, 6.57], [26.17, 6.5],
  [26.99, 6.75], [27.5, 6.44], [27.66, 5.88], [27.74, 5.57], [27.07, 5.32], [26.17, 4.88], [26.02, 5.01],
  [25.72, 4.82], [25.57, 4.44], [25.42, 4.69], [25.19, 4.76], [24.85, 4.19], [24.37, 3.82], [24.07, 4.07],
  [23.99, 3.32], [23.69, 2.82], [23.84, 2.7], [23.32, 2.26], [22.87, 2.07], [24.44, 3.5], [24.5, 3.19],
  [24.89, 3.0], [25.19, 3.04], [24.99, 3.82], [25.24, 2.0], [22.42, 0.51], [22.65, 0.5], [21.67, 0.57],
];

// fitted curve
const tempFit: [number, number][] = [
  [6.5, 0.38], [8, 0.39], [10, 0.42], [12, 0.48], [14, 0.6], [15, 0.7], [16, 0.83], [17, 1.02],
  [18, 1.35], [19, 1.85], [20, 2.4], [21, 3.15], [22, 3.95], [22.5, 4.3], [23, 4.62], [23.5, 4.95],
  [24, 5.2], [24.5, 5.36], [25, 5.45], [26, 5.5], [27, 5.51], [30.8, 5.51],
];

const vpdTicks = [0, 1, 2, 3];
const tempTicks = [5, 10, 15, 20, 25, 30, 35];
const fluxTicks = [0, 2, 4, 6, 8, 10];

const SANS = "'Liberation Sans', Arial, Helvetica, sans-serif";
const SERIF = "'DejaVu Serif', 'Liberation Serif', serif";
const EQ = "#4a3f35";

function toPoints(cols: [number, number[]][][], extra: [number, number][]): [number, number][] {
  const out: [number, number][] = [];
  cols.forEach((set) => set.forEach(([x, ys]) => ys.forEach((y) => out.push([x, y]))));
  extra.forEach((p) => out.push(p));
  return out;
}

type PanelProps = {
  x: d3.ScaleLinear<number, number>;
  y: d3.ScaleLinear<number, number>;
  xTicks: number[];
  points: [number, number][];
  fit: [number, number][];
  xTitle: string;
  yTitleCenter: number;
  xTitleY: number;
  tag: string;
  tagY: number;
};

function YTitle({ cy }: { cy: number }) {
  return (
    <text transform={`translate(34, ${cy}) rotate(-90)`} textAnchor="middle" fontFamily={SANS} fontSize={22} fill="#111">
      Sap flux density (cm
      <tspan dy={-8} fontSize={14}>3</tspan>
      <tspan dy={8}> cm</tspan>
      <tspan dy={-8} fontSize={14}>-2</tspan>
      <tspan dy={8}> h</tspan>
      <tspan dy={-8} fontSize={14}>-1</tspan>
      <tspan dy={8}>)</tspan>
    </text>
  );
}

function Panel({ x, y, xTicks, points, fit, xTitle, yTitleCenter, xTitleY, tag, tagY }: PanelProps) {
  const [x0, x1] = x.range();
  const [yb, yt] = y.range();
  const line = d3
    .line<[number, number]>()
    .x((d) => x(d[0]))
    .y((d) => y(d[1]))
    .curve(d3.curveMonotoneX);
  return (
    <g>
      {points.map((p, i) => (
        <circle key={i} cx={x(p[0])} cy={y(p[1])} r={1.8} fill="#111" />
      ))}
      <path d={line(fit) || ""} fill="none" stroke="#000" strokeWidth={2.6} />
      <rect x={x0} y={yt} width={x1 - x0} height={yb - yt} fill="none" stroke="#222" strokeWidth={1.3} />
      {xTicks.map((t) => (
        <g key={t}>
          <line x1={x(t)} x2={x(t)} y1={yb} y2={yb + 7} stroke="#222" strokeWidth={1.3} />
          <text x={x(t)} y={yb + 33} textAnchor="middle" fontFamily={SANS} fontSize={18} fill="#111">
            {t}
          </text>
        </g>
      ))}
      {fluxTicks.map((t) => (
        <g key={t}>
          <line x1={x0 - 7} x2={x0} y1={y(t)} y2={y(t)} stroke="#222" strokeWidth={1.3} />
          <text x={79} y={y(t) + 6.5} textAnchor="end" fontFamily={SANS} fontSize={18} fill="#111">
            {t}
          </text>
        </g>
      ))}
      <text x={426} y={xTitleY} textAnchor="middle" fontFamily={SANS} fontSize={22} fill="#111">
        {xTitle}
      </text>
      <YTitle cy={yTitleCenter} />
      <text x={766} y={tagY} fontFamily={SANS} fontSize={29} fill="#111">
        {tag}
      </text>
    </g>
  );
}

export default function App() {
  const xA = d3.scaleLinear().domain([0, 3.5]).range([92, 759]);
  const yA = d3.scaleLinear().domain([-0.08, 10]).range([293, 27]);
  const xB = d3.scaleLinear().domain([5, 35]).range([92, 760]);
  const yB = d3.scaleLinear().domain([0, 10]).range([682, 415]);
  const ptsA = toPoints([vpdColumns, vpdColumnsMid], vpdScatter);
  const ptsB = toPoints([tempColumns, tempColumnsMid], tempScatter);
  return (
    <svg width={778} height={761} style={{ position: "absolute", left: 0, top: 0, background: "#fff" }}>
      <rect x={0} y={0} width={778} height={761} fill="#fff" />
      <Panel x={xA} y={yA} xTicks={vpdTicks} points={ptsA} fit={vpdFit} xTitle="VPD (kPa)" yTitleCenter={160} xTitleY={367} tag="a" tagY={42} />
      <Panel x={xB} y={yB} xTicks={tempTicks} points={ptsB} fit={tempFit} xTitle="Temperature (°C)" yTitleCenter={549} xTitleY={755} tag="b" tagY={430} />

      {/* equation a */}
      <g fontFamily={SERIF} fill={EQ}>
        <text x={102} y={58} fontSize={14.5}>
          <tspan fontStyle="italic">y</tspan> = 6.675 +
        </text>
        <text x={242} y={47} fontSize={14.5} textAnchor="middle">7.604</text>
        <line x1={193} x2={291} y1={53} y2={53} stroke={EQ} strokeWidth={1} />
        <text x={195} y={69} fontSize={14.5}>
          1 + 10
          <tspan dy={-5} fontSize={10}>
            <tspan fontStyle="italic">x</tspan>−0.802
          </tspan>
        </text>
        <text x={102} y={105} fontSize={14.5}>
          <tspan fontStyle="italic">r</tspan>
          <tspan dy={-6} fontSize={10}>2</tspan>
          <tspan dy={6}> = 0.791</tspan>
        </text>
      </g>

      {/* equation b */}
      <g fontFamily={SERIF} fill={EQ}>
        <text x={97} y={448} fontSize={15}>
          <tspan fontStyle="italic">y</tspan> = 0.371 +
        </text>
        <text x={293} y={433} fontSize={15} textAnchor="middle">5.137</text>
        <line x1={188} x2={397} y1={442} y2={442} stroke={EQ} strokeWidth={1} />
        <text x={190} y={467} fontSize={14}>1 + exp (</text>
        <text x={307} y={455} fontSize={14} textAnchor="middle">
          −(<tspan fontStyle="italic">x</tspan> − 22.842)
        </text>
        <line x1={260} x2={354} y1={459} y2={459} stroke={EQ} strokeWidth={1} />
        <text x={307} y={473} fontSize={14} textAnchor="middle">0.919</text>
        <text x={357} y={467} fontSize={14}>)</text>
        <text x={366} y={461} fontSize={10}>0.338</text>
        <text x={97} y={510} fontSize={15}>
          <tspan fontStyle="italic">r</tspan>
          <tspan dy={-6} fontSize={10}>2</tspan>
          <tspan dy={6}> = 0.666</tspan>
        </text>
      </g>
    </svg>
  );
}
